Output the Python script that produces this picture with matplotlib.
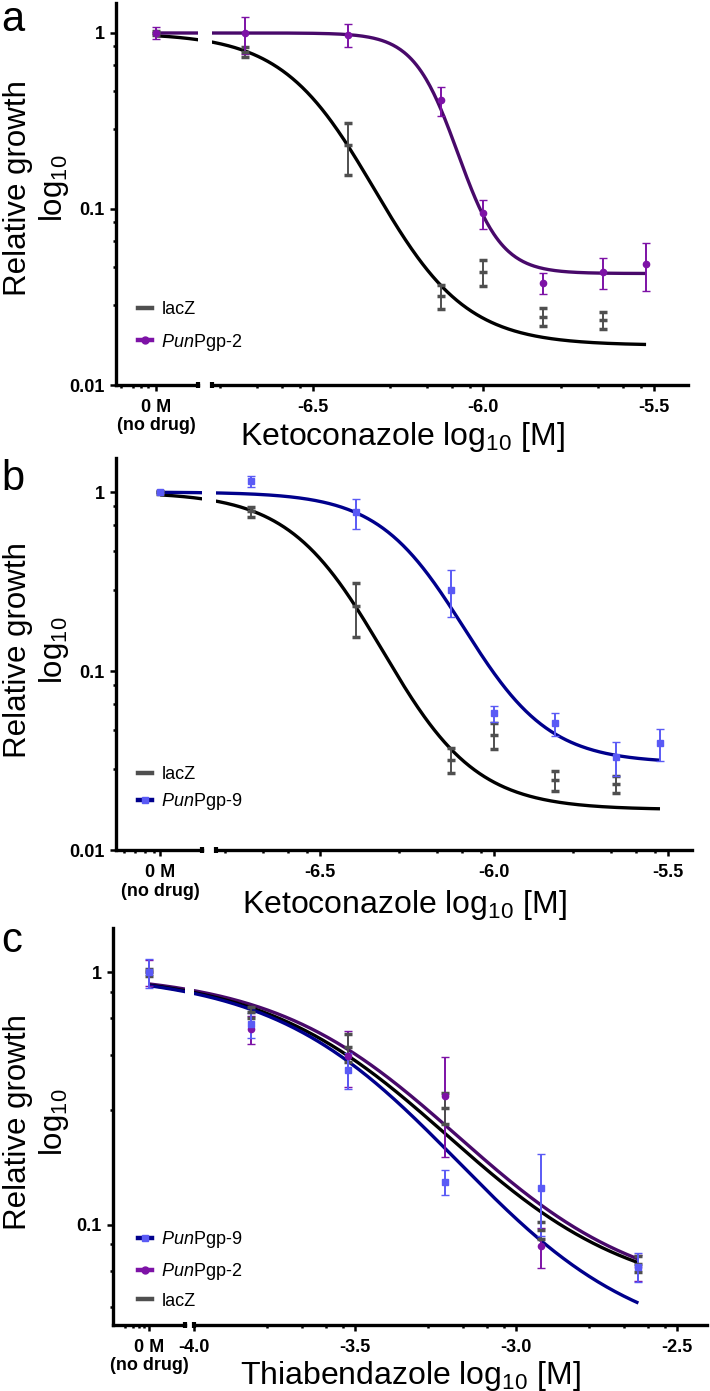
import numpy as np
import matplotlib.pyplot as plt
from matplotlib.lines import Line2D
from matplotlib.ticker import FixedLocator, NullFormatter

plt.rcParams['font.family'] = ['Liberation Sans', 'DejaVu Sans']
plt.rcParams['mathtext.fontset'] = 'custom'
plt.rcParams['mathtext.rm'] = 'Liberation Sans'
plt.rcParams['mathtext.it'] = 'Liberation Sans:italic'
plt.rcParams['mathtext.bf'] = 'Liberation Sans:bold'

# drug concentrations, log10 [M]
keto_conc = [-6.699, -6.398, -6.125, -6.0, -5.824, -5.648, -5.523]
tbz_conc = [-3.824, -3.523, -3.222, -2.921, -2.620]

# relative growth (mean, sd); first entry = no drug (0 M)
keto_lacz = [1.0, 0.78, 0.232, 0.032, 0.044, 0.0245, 0.0234]
keto_lacz_sd = [0.02, 0.05, 0.077, 0.005, 0.0075, 0.003, 0.0025]
keto_pgp2 = [1.0, 1.0, 0.98, 0.416, 0.095, 0.038, 0.044, 0.049]
keto_pgp2_sd = [0.08, 0.24, 0.15, 0.08, 0.018, 0.005, 0.009, 0.015]
keto_pgp9 = [1.0, 1.15, 0.77, 0.284, 0.058, 0.051, 0.033, 0.0396]
keto_pgp9_sd = [0.01, 0.08, 0.15, 0.083, 0.006, 0.0075, 0.007, 0.008]

tbz_lacz = [1.0, 0.694, 0.504, 0.291, 0.095, 0.07]
tbz_lacz_sd = [0.03, 0.036, 0.064, 0.041, 0.0075, 0.005]
tbz_pgp2 = [1.0, 0.594, 0.468, 0.325, 0.082, 0.068]
tbz_pgp2_sd = [0.12, 0.076, 0.117, 0.139, 0.015, 0.008]
tbz_pgp9 = [1.0, 0.622, 0.412, 0.148, 0.14, 0.068]
tbz_pgp9_sd = [0.13, 0.07, 0.067, 0.017, 0.05, 0.009]

# fitted dose-response curves: top, bottom, logEC50, hill slope
fit_keto_lacz = [1.0, 0.0168, -6.32, 3.2]
fit_keto_pgp2 = [1.0, 0.043, -6.075, 6.7]
fit_keto_pgp9 = [1.0, 0.0306, -6.087, 3.5]
fit_tbz_lacz = [1.0, 0.05, -3.21, 1.5]
fit_tbz_pgp2 = [1.0, 0.05, -3.18, 1.5]
fit_tbz_pgp9 = [1.0, 0.0316, -3.18, 1.5]

GRAY = '#4f4f4f'
PURPLE = '#7d12a6'
PURPLE_LINE = '#48096a'
BLUE = '#5a5af5'
BLUE_LINE = '#00008c'

W, H = 710, 1391
fig = plt.figure(figsize=(W / 100, H / 100), dpi=100)

MINOR = [0.076, 0.182, 0.328, 0.546]   # prism style minor tick spacing
TICK_FS = 13


def dose_response(x, top, bottom, logec, hill):
    f = 1 / (1 + 10 ** (hill * (x - logec)))
    return 10 ** (np.log10(bottom) + (np.log10(top) - np.log10(bottom)) * f)


def setup_panel(top, bottom, left, brk_l, brk_r, right, xlim_l, xlim_r, ylim,
                x0, left_minor, majors, nodrug_off):
    b = 1 - bottom / H
    h = (bottom - top) / H
    axl = fig.add_axes([left / W, b, (brk_l - left) / W, h])
    axr = fig.add_axes([brk_r / W, b, (right - brk_r) / W, h])
    for ax, xl in ((axl, xlim_l), (axr, xlim_r)):
        ax.set_yscale('log')
        ax.set_ylim(*ylim)
        ax.set_xlim(*xl)
        ax.patch.set_alpha(0)
        for s in ('top', 'right'):
            ax.spines[s].set_visible(False)
        ax.spines['bottom'].set_linewidth(2.4)
        ax.spines['left'].set_linewidth(2.4)
        ax.spines['bottom'].set_capstyle('projecting')
        ax.tick_params(which='major', length=4.3, width=1.8, labelsize=TICK_FS, pad=5.5)
        ax.tick_params(which='minor', length=2.5, width=1.8)
        ax.tick_params(axis='y', pad=4)
    axr.spines['left'].set_visible(False)
    axr.tick_params(axis='y', which='both', left=False, labelleft=False)

    yt = [v for v in [0.01, 0.1, 1] if ylim[0] <= v <= ylim[1]]
    axl.yaxis.set_major_locator(FixedLocator(yt))
    axl.set_yticklabels([('%g' % v) for v in yt], fontweight='bold')
    ym = []
    for k in (-2, -1, 0):
        for f in MINOR:
            v = 10 ** (k + 1 - f)
            if ylim[0] < v < ylim[1]:
                ym.append(v)
    axl.yaxis.set_minor_locator(FixedLocator(ym))
    axl.yaxis.set_minor_formatter(NullFormatter())

    axl.xaxis.set_major_locator(FixedLocator([x0]))
    axl.set_xticklabels(['0 M'], fontweight='bold')
    axl.annotate('(no drug)', xy=(x0, 0), xycoords=('data', 'axes fraction'),
                 xytext=(0, -nodrug_off), textcoords='offset points',
                 ha='center', va='center', fontsize=TICK_FS, fontweight='bold',
                 annotation_clip=False)
    axl.xaxis.set_minor_locator(FixedLocator([x0 - d for d in left_minor]))
    axr.xaxis.set_major_locator(FixedLocator(majors))
    axr.set_xticklabels(['%.1f' % m for m in majors], fontweight='bold')
    xm = []
    for m in majors:
        for f in MINOR:
            v = m - 0.5 * f
            if xlim_r[0] < v < xlim_r[1]:
                xm.append(v)
    axr.xaxis.set_minor_locator(FixedLocator(xm))

    # axis break end caps
    axl.plot([1], [0], transform=axl.transAxes, marker='|', ms=5, mew=3,
             color='black', clip_on=False)
    axr.plot([0], [0], transform=axr.transAxes, marker='|', ms=5, mew=3,
             color='black', clip_on=False)
    return axl, axr


def draw_series(axes, x0, conc, y, sd, fit, xend, pt_color, line_color,
                marker, ms, mew, zl=2):
    xs = [x0] + list(conc[:len(y) - 1])
    xx = np.linspace(x0, xend, 400)
    yy = dose_response(xx, *fit)
    for ax in axes:
        ax.plot(xx, yy, color=line_color, lw=2.4, zorder=zl,
                solid_capstyle='butt')
        ax.errorbar(xs, y, yerr=sd, fmt=marker, color=pt_color, ms=ms, mew=mew,
                    elinewidth=1.4, capsize=3, capthick=1.4, zorder=4)


h_lacz = Line2D([], [], color=GRAY, lw=3.2)
h_pgp2 = Line2D([], [], color=PURPLE, lw=3.2, marker='o', ms=5)
h_pgp9 = Line2D([], [], color=BLUE_LINE, lw=3.2, marker='s', ms=4,
                mfc=BLUE, mec=BLUE)
lab_pgp2 = r'$\mathit{Pun}$Pgp-2'
lab_pgp9 = r'$\mathit{Pun}$Pgp-9'


def add_legend(handles, labels, top, spacing):
    fig.legend(handles, labels, loc='upper left',
               bbox_to_anchor=(138 / W, 1 - top / H), frameon=False,
               fontsize=13, handlelength=0.8, handletextpad=0.5,
               labelspacing=spacing, borderpad=0, borderaxespad=0)


def add_labels(letter, letter_y, ycenter, xcenter, xbase, xlabel):
    fig.text(1 / W, 1 - letter_y / H, letter, fontsize=30, va='baseline')
    fig.text(37 / W, 1 - ycenter / H, 'Relative growth\nlog$_{10}$',
             rotation=90, ha='center', va='center', fontsize=22.5,
             multialignment='center', linespacing=1.15)
    fig.text(xcenter / W, 1 - xbase / H, xlabel, ha='center', va='baseline',
             fontsize=23)


keto_zero = -6.96
tbz_zero = -4.14

# panel a
axes_a = setup_panel(3, 385, 116, 198, 212, 688, (-7.077, -6.837), (-6.796, -5.400),
                     (0.01, 1.48), keto_zero, [0.103, 0.067, 0.044, 0.023],
                     [-6.5, -6.0, -5.5], 29)
draw_series(axes_a, keto_zero, keto_conc, keto_lacz, keto_lacz_sd, fit_keto_lacz,
            keto_conc[-1], GRAY, 'black', '_', 6, 2.5)
draw_series(axes_a, keto_zero, keto_conc, keto_pgp2, keto_pgp2_sd, fit_keto_pgp2,
            keto_conc[-1], PURPLE, PURPLE_LINE, 'o', 4.5, 1, zl=3)
add_legend([h_lacz, h_pgp2], ['lacZ', lab_pgp2], 301, 0.75)
add_labels('a', 31, 188, 402, 445, r'Ketoconazole log$_{10}$ [M]')

# panel b
axes_b = setup_panel(458, 850, 116, 202, 216, 692, (-7.087, -6.840), (-6.799, -5.431),
                     (0.01, 1.55), keto_zero, [0.103, 0.072, 0.043, 0.017],
                     [-6.5, -6.0, -5.5], 30)
draw_series(axes_b, keto_zero, keto_conc, keto_lacz, keto_lacz_sd, fit_keto_lacz,
            keto_conc[-1], GRAY, 'black', '_', 6, 2.5)
draw_series(axes_b, keto_zero, keto_conc, keto_pgp9, keto_pgp9_sd, fit_keto_pgp9,
            keto_conc[-1], BLUE, BLUE_LINE, 's', 3.8, 1, zl=3)
add_legend([h_lacz, h_pgp9], ['lacZ', lab_pgp9], 766, 0.45)
add_labels('b', 490, 650, 404, 913, r'Ketoconazole log$_{10}$ [M]')

# panel c
axes_c = setup_panel(928, 1325, 113, 185, 194, 707, (-4.252, -4.028), (-4.0, -2.407),
                     (0.04, 1.5), tbz_zero, [0.075, 0.05, 0.031, 0.014],
                     [-4.0, -3.5, -3.0, -2.5], 29)
draw_series(axes_c, tbz_zero, tbz_conc, tbz_pgp2, tbz_pgp2_sd, fit_tbz_pgp2,
            tbz_conc[-1], PURPLE, PURPLE_LINE, 'o', 4.5, 1, zl=2)
draw_series(axes_c, tbz_zero, tbz_conc, tbz_lacz, tbz_lacz_sd, fit_tbz_lacz,
            tbz_conc[-1], GRAY, 'black', '_', 6, 2.5)
draw_series(axes_c, tbz_zero, tbz_conc, tbz_pgp9, tbz_pgp9_sd, fit_tbz_pgp9,
            tbz_conc[-1], BLUE, BLUE_LINE, 's', 3.8, 1, zl=3)
add_legend([h_pgp9, h_pgp2, h_lacz], [lab_pgp9, lab_pgp2, 'lacZ'], 1229, 0.6)
add_labels('c', 952, 1122, 410, 1384, r'Thiabendazole log$_{10}$ [M]')

fig.savefig('out.png', dpi=100)
